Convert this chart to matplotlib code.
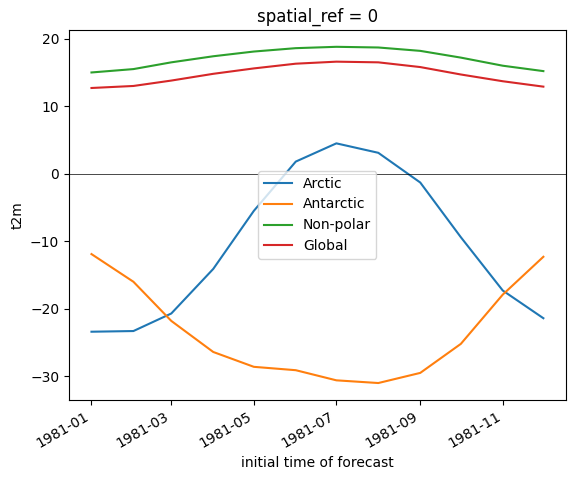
import matplotlib
matplotlib.use("Agg")
import matplotlib.pyplot as plt
import matplotlib.dates as mdates
import numpy as np
import pandas as pd

months = pd.date_range("1981-01-01", periods=12, freq="MS")
arctic = [-23.4, -23.3, -20.7, -14.1, -5.5, 1.8, 4.5, 3.1, -1.3, -9.4, -17.3, -21.4]
antarctic = [-11.9, -16.0, -21.8, -26.4, -28.6, -29.1, -30.6, -31.0, -29.5, -25.2, -17.9, -12.3]
nonpolar = [15.0, 15.5, 16.5, 17.4, 18.1, 18.6, 18.8, 18.7, 18.2, 17.2, 16.0, 15.2]
global_t = [12.7, 13.0, 13.8, 14.8, 15.6, 16.3, 16.6, 16.5, 15.8, 14.7, 13.7, 12.9]

fig, ax = plt.subplots(figsize=(5.74, 4.8), dpi=100)
ax.plot(months, arctic, label="Arctic")
ax.plot(months, antarctic, label="Antarctic")
ax.plot(months, nonpolar, label="Non-polar")
ax.plot(months, global_t, label="Global")
ax.axhline(0, color="black", linewidth=0.5)
ax.set_title("spatial_ref = 0")
ax.set_ylabel("t2m")
ax.set_xlabel("initial time of forecast")
ax.xaxis.set_major_locator(mdates.MonthLocator(bymonth=[1, 3, 5, 7, 9, 11]))
ax.xaxis.set_major_formatter(mdates.DateFormatter("%Y-%m"))
fig.autofmt_xdate()
ax.legend(loc="center")
fig.subplots_adjust(left=0.12, right=0.986, top=0.9375, bottom=0.167)
fig.savefig("out.png")
